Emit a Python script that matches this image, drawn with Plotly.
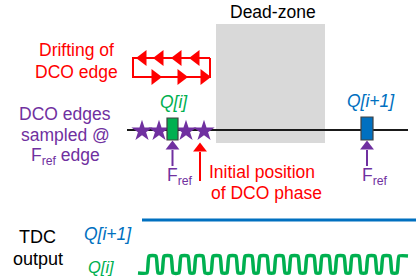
import plotly.graph_objects as go

# ---- diagram data (in diagram units, 0..416 x 0..278, y downward) ----
dead_zone_x = [216, 325]
dead_zone_y = [24, 143]
timeline_x = [127, 408]
timeline_y = 130
star_x = [142, 159, 186, 204]
qi_box_x = [167, 178]
qi_plus1_box_x = [361, 373]
box_y = [118, 140]
fref_arrow_x = [172.5, 367]
init_arrow_x = 200
drift_rect_x = [133, 210]
drift_rect_y = [58, 77]
drift_left_tips = [138, 155, 173, 191]
drift_right_tips = [160, 186, 209]
tdc_high_y = 220
q_i_high = 256
q_i_low = 273
q_i_rise = [148, 163, 180, 195, 212, 228, 244, 259, 275, 290, 306, 321, 336, 351, 367, 382, 398]
q_i_fall = [157, 172, 189, 204, 221, 237, 253, 268, 284, 299, 315, 330, 345, 360, 376, 391]

GREEN = "#00B050"
BLUE = "#0070C0"
PURPLE = "#7030A0"
RED = "#FF0000"
FONT = "Liberation Sans, Arial, sans-serif"

fig = go.Figure()

# dead zone
fig.add_shape(type="rect", x0=dead_zone_x[0], x1=dead_zone_x[1], y0=dead_zone_y[0], y1=dead_zone_y[1],
              fillcolor="#D9D9D9", line_width=0, layer="below")

# timeline
fig.add_trace(go.Scatter(x=timeline_x, y=[timeline_y, timeline_y], mode="lines",
                         line=dict(color="#1a1a1a", width=2)))

# sampling boxes
fig.add_shape(type="rect", x0=qi_box_x[0], x1=qi_box_x[1], y0=box_y[0], y1=box_y[1],
              fillcolor=GREEN, line=dict(color="#404040", width=1.2))
fig.add_shape(type="rect", x0=qi_plus1_box_x[0], x1=qi_plus1_box_x[1], y0=box_y[0] - 1, y1=box_y[1],
              fillcolor=BLUE, line=dict(color="#404040", width=1.2))
fig.add_trace(go.Scatter(x=[sum(qi_box_x) / 2, sum(qi_plus1_box_x) / 2], y=[138, 138], mode="markers",
                         marker=dict(symbol="triangle-up", size=6, color="white", line_width=0)))

# stars
fig.add_trace(go.Scatter(x=star_x, y=[timeline_y + 1] * len(star_x), mode="markers",
                         marker=dict(symbol="star", size=16, color=PURPLE, line_width=0)))

# Fref arrows
for ax in fref_arrow_x:
    fig.add_trace(go.Scatter(x=[ax, ax], y=[150, 166], mode="lines", line=dict(color=PURPLE, width=2)))
fig.add_trace(go.Scatter(x=fref_arrow_x, y=[146.5, 146.5], mode="markers",
                         marker=dict(symbol="triangle-up", size=12, color=PURPLE, line_width=0)))

# initial position arrow
fig.add_trace(go.Scatter(x=[init_arrow_x, init_arrow_x], y=[152, 181], mode="lines",
                         line=dict(color=RED, width=2)))
fig.add_trace(go.Scatter(x=[init_arrow_x], y=[148.5], mode="markers",
                         marker=dict(symbol="triangle-up", size=12, color=RED, line_width=0)))

# drifting loop
rx = [drift_rect_x[1], drift_rect_x[0], drift_rect_x[0], drift_rect_x[1], drift_rect_x[1]]
ry = [drift_rect_y[0], drift_rect_y[0], drift_rect_y[1], drift_rect_y[1], drift_rect_y[0]]
fig.add_trace(go.Scatter(x=rx, y=ry, mode="lines", line=dict(color=RED, width=2)))
fig.add_trace(go.Scatter(x=[t + 5 for t in drift_left_tips], y=[drift_rect_y[0]] * len(drift_left_tips),
                         mode="markers", marker=dict(symbol="triangle-left", size=14, color=RED, line_width=0)))
fig.add_trace(go.Scatter(x=[t - 5 for t in drift_right_tips], y=[drift_rect_y[1]] * len(drift_right_tips),
                         mode="markers", marker=dict(symbol="triangle-right", size=14, color=RED, line_width=0)))

# TDC outputs
fig.add_trace(go.Scatter(x=[142, 416], y=[tdc_high_y, tdc_high_y], mode="lines",
                         line=dict(color=BLUE, width=3)))
wx, wy = [138], [q_i_low]
for i, r in enumerate(q_i_rise):
    wx += [r - 1, r + 1]
    wy += [q_i_low, q_i_high]
    if i < len(q_i_fall):
        f = q_i_fall[i]
        wx += [f - 1, f + 1]
        wy += [q_i_high, q_i_low]
wx.append(408)
wy.append(q_i_high)
fig.add_trace(go.Scatter(x=wx, y=wy, mode="lines", line=dict(color=GREEN, width=3.5, shape="spline", smoothing=0.4)))

# text
def txt(x, y, s, color, size=17.5, italic=False):
    if italic:
        s = "<i>" + s + "</i>"
    fig.add_annotation(x=x, y=y, text=s, showarrow=False, xref="x", yref="y",
                       font=dict(family=FONT, size=size, color=color), xanchor="center", yanchor="middle")

txt(273, 12, "Dead-zone", "black")
txt(76, 50, "Drifting of", RED)
txt(76, 72, "DCO edge", RED)
txt(65, 114, "DCO edges", PURPLE)
txt(65, 135, "sampled @", PURPLE)
txt(65, 156, "F<sub>ref</sub> edge", PURPLE)
txt(174, 102, "Q[i]", GREEN, italic=True)
txt(371, 101, "Q[i+1]", BLUE, italic=True)
txt(180, 176, "F<sub>ref</sub>", PURPLE)
txt(375, 176, "F<sub>ref</sub>", PURPLE)
txt(262, 172, "Initial position", RED)
txt(266, 193, "of DCO phase", RED)
txt(37, 237, "TDC", "black", size=18)
txt(38, 259, "output", "black", size=18)
txt(108, 234, "Q[i+1]", BLUE, italic=True)
txt(101, 267, "Q[i]", GREEN, size=16.5, italic=True)

fig.update_layout(width=416, height=278, margin=dict(l=0, r=0, t=0, b=0),
                  paper_bgcolor="white", plot_bgcolor="white", showlegend=False)
fig.update_xaxes(range=[0, 416], visible=False, fixedrange=True)
fig.update_yaxes(range=[278, 0], visible=False, fixedrange=True)

fig.write_html("out.html", config={"displayModeBar": False},
               post_script="document.body.style.margin='0';document.body.style.overflow='hidden';")
